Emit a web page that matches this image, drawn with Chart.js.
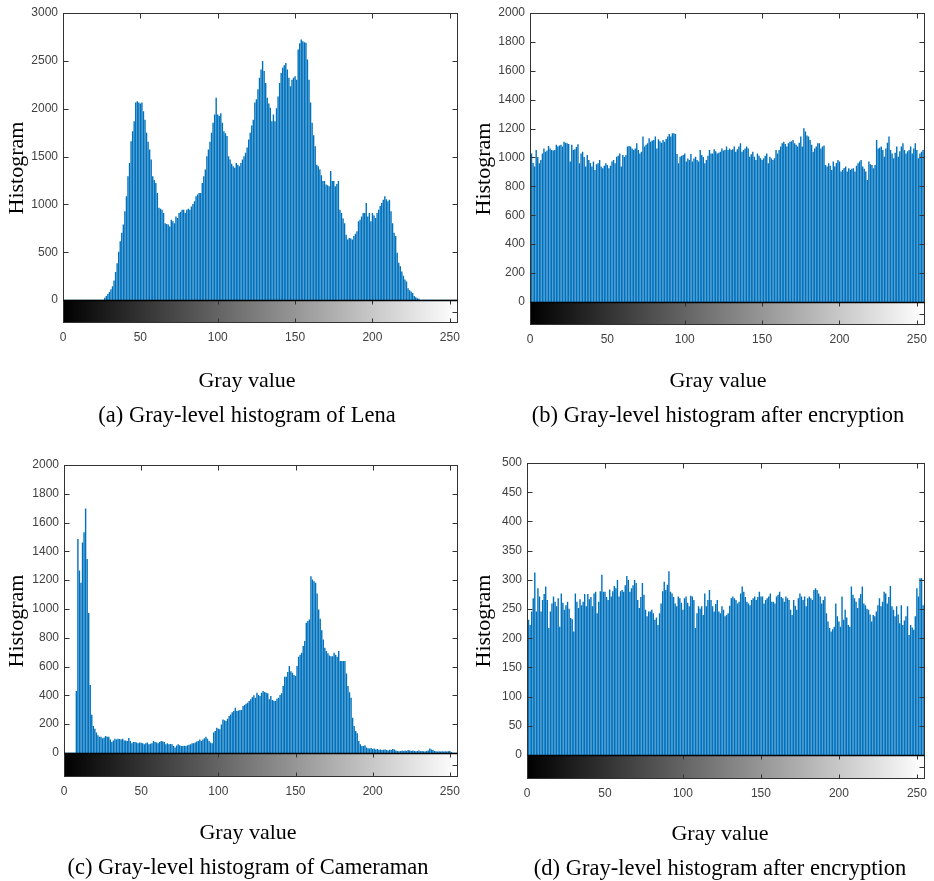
<!DOCTYPE html>
<html>
<head>
<meta charset="utf-8">
<title>Gray-level histograms</title>
<script src="https://cdn.jsdelivr.net/npm/chart.js@4.4.1/dist/chart.umd.min.js"></script>
<style>
  html, body { margin: 0; padding: 0; background: #fff; }
  body { width: 934px; height: 881px; position: relative; overflow: hidden;
         font-family: "Liberation Serif", "Times New Roman", serif; }
  canvas { position: absolute; }
  .lbl { position: absolute; transform: translate(-50%, -50%); white-space: nowrap; color: #000; }
  .xlabel { font-size: 22px; }
  .caption { font-size: 22.5px; }
</style>
</head>
<body>
<canvas id="chartA" width="467" height="440" style="left:0;top:0"></canvas>
<canvas id="chartB" width="467" height="440" style="left:467px;top:0"></canvas>
<canvas id="chartC" width="467" height="441" style="left:0;top:440px"></canvas>
<canvas id="chartD" width="467" height="441" style="left:467px;top:440px"></canvas>

<div class="lbl xlabel" style="left:247px;top:380px">Gray value</div>
<div class="lbl xlabel" style="left:718px;top:380px">Gray value</div>
<div class="lbl xlabel" style="left:248px;top:832px">Gray value</div>
<div class="lbl xlabel" style="left:720px;top:833px">Gray value</div>

<div class="lbl caption" style="left:247px;top:415px">(a) Gray-level histogram of Lena</div>
<div class="lbl caption" style="left:718px;top:415px">(b) Gray-level histogram after encryption</div>
<div class="lbl caption" style="left:248px;top:867px">(c) Gray-level histogram of Cameraman</div>
<div class="lbl caption" style="left:720px;top:868px">(d) Gray-level histogram after encryption</div>

<script>
// gray levels 0..255
const grayLevels = Array.from({ length: 256 }, (_, i) => i);
const xTicks = [0, 50, 100, 150, 200, 250];

// (a) Lena
const lenaHist = [
  0,0,0,0,0,0,0,0,0,0, 0,0,0,0,0,0,0,0,0,0, 0,0,0,0,0,0,0,
  20,40,60,80,110,140,200,290,380,500,
  610,700,785,925,1080,1290,1430,1655,1760,1865,
  2060,2075,2060,2050,2060,1970,1880,1745,1650,1570,
  1465,1290,1250,1220,1115,960,950,940,905,800,
  790,785,765,835,820,800,870,855,905,920,
  940,940,905,940,950,940,975,1000,1030,1080,
  1100,1115,1115,1220,1290,1360,1500,1570,1650,1745,
  1850,1935,2110,1935,1920,1950,1850,1760,1740,1710,
  1500,1465,1420,1395,1380,1430,1410,1395,1430,1465,
  1500,1535,1590,1675,1745,1820,1880,2060,2095,2200,
  2320,2405,2495,2390,2265,2110,2050,2005,1865,1935,
  1865,2000,2125,2265,2370,2425,2450,2475,2405,2320,
  2230,2300,2320,2335,2300,2615,2680,2720,2700,2690,
  2685,2510,2300,2060,1850,1720,1605,1410,1395,1360,
  1300,1240,1240,1205,1195,1185,1345,1240,1240,1185,
  1210,1240,940,905,850,800,680,630,645,640,
  630,665,690,715,820,835,870,905,905,1010,
  870,905,820,905,880,855,905,940,980,1010,
  1045,1080,1050,1030,1045,925,800,700,665,490,
  385,350,295,250,210,190,120,100,85,70,
  40,25,15,10,
  0,0,0,0,0,0,0,0,0,0, 0,0,0,0,0,0,0,0,0,0, 0,0,0,0,0
];
const lenaTicks = [0, 500, 1000, 1500, 2000, 2500, 3000];

// (b) Lena after encryption
const lenaEncHist = [
  990,1025,960,935,1050,1000,957,980,1025,1060,
  1038,1045,1077,1060,1050,1045,1050,1085,1073,1080,
  1085,1073,1107,1100,1096,1090,969,1085,1050,1054,
  1070,1089,957,1025,1038,1000,935,1015,980,960,
  935,969,911,950,957,980,935,923,940,957,
  946,923,940,969,980,957,1003,1010,1025,935,
  1015,1000,1015,1073,1077,1073,1060,1050,1060,1096,
  1050,1025,1038,1142,1073,1085,1096,1130,1107,1115,
  1119,1142,1060,1123,1110,1100,1119,1107,1125,1142,
  1160,1142,1165,1165,1160,1022,957,1003,1010,1015,
  1025,969,990,980,1022,969,990,1003,980,969,
  1050,1015,1000,957,980,1010,1050,1025,1025,1054,
  1040,1025,1031,1038,1060,1045,1050,1073,1050,1060,
  1050,1054,1073,1038,1055,1073,1096,1038,1050,1060,
  1073,1060,1003,1020,1038,1003,980,1025,1010,992,
  980,992,1010,1025,957,1003,990,980,992,1050,
  1025,1050,1073,1096,1107,1090,1073,1096,1107,1110,
  1119,1096,1085,1073,1100,1142,1073,1200,1177,1150,
  1142,1119,1085,1038,1060,1073,1096,1096,1060,1073,
  1080,946,935,957,940,911,969,935,960,980,
  969,900,911,925,935,900,923,911,920,923,
  900,940,957,969,980,935,920,900,842,969,
  950,946,923,946,1119,1060,1065,1073,1050,1003,
  1060,1100,1142,1050,1025,992,1030,1073,1003,1040,
  1073,1096,1050,1025,1040,1050,1073,1025,1060,1096,
  1050,992,1025,1038,1050,1060
];
const encTicks = [0, 200, 400, 600, 800, 1000, 1200, 1400, 1600, 1800, 2000];

// (c) Cameraman
const cameraHist = [
  0,0,0,0,0,0,0,0,
  428,1484,1265,1180,1460,1530,1695,1345,970,470,
  263,185,166,140,120,110,110,100,105,115,
  110,110,92,74,85,97,92,97,95,92,
  97,85,85,81,101,80,65,74,74,70,
  65,70,68,65,58,65,70,58,62,65,
  81,74,70,65,74,81,78,74,58,65,
  58,60,58,46,35,50,58,51,46,46,
  48,46,51,55,58,65,65,70,78,81,
  92,81,92,100,110,97,81,70,65,140,
  150,173,165,162,196,230,225,220,236,254,
  265,280,289,312,289,292,296,296,324,330,
  340,347,358,370,385,398,381,416,400,393,
  416,428,421,415,412,370,393,365,360,358,
  375,381,400,412,462,527,527,560,601,566,
  555,540,532,601,666,680,694,740,775,902,
  915,925,1225,1202,1190,1180,1105,994,930,850,
  786,728,705,690,675,670,670,694,680,666,
  705,636,636,636,636,550,462,420,381,243,
  185,150,134,81,58,46,46,51,35,30,
  28,32,25,28,22,25,20,22,18,20,
  22,18,15,20,18,25,22,15,12,10,
  12,15,12,15,12,18,15,12,15,12,
  10,12,15,10,12,10,8,12,15,28,
  22,18,12,10,8,10,8,10,8,10,
  8,10,12,5,0,0,0,0
];
const cameraTicks = [0, 200, 400, 600, 800, 1000, 1200, 1400, 1600, 1800, 2000];

// (d) Cameraman after encryption
const cameraEncHist = [
  262,231,222,245,268,312,245,285,271,245,
  265,275,288,265,217,245,259,271,262,254,
  268,219,276,260,248,256,262,250,234,232,
  211,276,262,251,266,256,262,275,254,275,
  266,270,254,276,279,242,262,280,308,279,
  279,270,265,283,271,280,289,285,299,271,
  280,282,279,290,306,299,279,285,290,299,
  294,265,251,270,294,274,248,237,245,245,
  248,242,231,235,222,242,259,280,296,282,
  291,314,279,276,270,259,254,271,268,260,
  248,268,271,260,254,272,271,265,217,242,
  254,250,254,239,276,254,265,282,265,254,
  245,258,265,245,242,254,248,237,239,242,
  255,268,271,268,265,259,262,276,288,279,
  270,262,259,256,265,268,271,265,270,279,
  271,271,259,265,268,271,276,262,262,259,
  271,274,279,270,268,262,271,268,265,248,
  239,265,255,248,268,276,271,265,271,254,
  268,271,268,265,282,285,282,276,271,259,
  265,271,242,228,217,211,215,219,259,237,
  228,219,271,231,248,235,222,219,288,274,
  268,262,251,268,275,288,259,256,250,248,
  240,228,239,237,245,256,268,254,262,279,
  276,259,270,289,254,248,237,254,240,225,
  256,222,230,237,254,205,222,218,214,237,
  285,271,302,302,256,254
];
const cameraEncTicks = [0, 50, 100, 150, 200, 250, 300, 350, 400, 450, 500];

Chart.defaults.font.family = '"Liberation Sans", Arial, sans-serif';

const barColor = '#0072BD';
const tickColor = '#404040';

// colour bar below zero, box, inward ticks
const framePlugin = {
  id: 'frame',
  beforeDatasetsDraw(chart) {
    const { ctx, chartArea: a, scales: { y } } = chart;
    const y0 = y.getPixelForValue(0);
    const g = ctx.createLinearGradient(a.left, 0, a.right, 0);
    g.addColorStop(0, '#000');
    g.addColorStop(1, '#fff');
    ctx.save();
    ctx.fillStyle = g;
    ctx.fillRect(a.left, y0, a.right - a.left, a.bottom - y0);
    ctx.restore();
  },
  afterDatasetsDraw(chart) {
    const { ctx, chartArea: a, scales: { x, y } } = chart;
    const L = Math.round(a.left) + 0.5, R = Math.round(a.right) - 0.5;
    const T = Math.round(a.top) + 0.5, B = Math.round(a.bottom) - 0.5;
    const y0 = Math.round(y.getPixelForValue(0)) + 0.5;
    ctx.save();
    ctx.strokeStyle = '#333';
    ctx.lineWidth = 1;
    ctx.strokeRect(L, T, R - L, B - T);
    ctx.beginPath();
    y.ticks.forEach(t => {
      if (t.value <= 0) return;
      const py = Math.round(y.getPixelForValue(t.value)) + 0.5;
      ctx.moveTo(L, py); ctx.lineTo(L + 5, py);
      ctx.moveTo(R, py); ctx.lineTo(R - 5, py);
    });
    x.ticks.forEach(t => {
      const px = Math.round(x.getPixelForValue(t.value)) + 0.5;
      ctx.moveTo(px, T); ctx.lineTo(px, T + 5);
      ctx.moveTo(px, y0); ctx.lineTo(px, y0 + 4);
      ctx.moveTo(px, B); ctx.lineTo(px, B - 4);
    });
    const ym = Math.round((y0 + B) / 2) + 0.5;
    ctx.moveTo(R, ym); ctx.lineTo(R - 5, ym);
    ctx.stroke();
    ctx.strokeStyle = '#000';
    ctx.lineWidth = 1.5;
    ctx.beginPath();
    ctx.moveTo(L, y0); ctx.lineTo(R, y0);
    ctx.stroke();
    ctx.restore();
  }
};

function makeChart(id, values, yTicks, yMin, box) {
  const canvas = document.getElementById(id);
  const xAxisH = 30;
  return new Chart(canvas, {
    type: 'bar',
    data: {
      datasets: [{
        data: values.map((v, i) => ({ x: grayLevels[i], y: v })),
        backgroundColor: barColor,
        borderWidth: 0,
        barThickness: 0.75
      }]
    },
    options: {
      responsive: false,
      animation: false,
      events: [],
      layout: {
        padding: { left: 0, top: box.t, right: canvas.width - box.r, bottom: canvas.height - box.b - xAxisH }
      },
      plugins: { legend: { display: false }, tooltip: { enabled: false } },
      scales: {
        x: {
          type: 'linear', min: 0, max: 255, offset: false,
          grid: { display: false, drawTicks: false }, border: { display: false },
          afterBuildTicks: s => { s.ticks = xTicks.map(v => ({ value: v })); },
          afterFit: s => { s.height = xAxisH; },
          ticks: { padding: 7, color: tickColor, font: { size: 12 }, maxRotation: 0, autoSkip: false,
                   callback: v => String(v) }
        },
        y: {
          min: yMin, max: yTicks[yTicks.length - 1],
          grid: { display: false, drawTicks: false }, border: { display: false },
          afterBuildTicks: s => { s.ticks = yTicks.map(v => ({ value: v })); },
          afterFit: s => { s.width = box.l; },
          ticks: { padding: 5, color: tickColor, font: { size: 12 }, autoSkip: false,
                   callback: v => String(v) },
          title: {
            display: true, text: 'Histogram', color: '#000',
            font: { family: '"Liberation Serif", "Times New Roman", serif', size: 22 },
            padding: { top: 4, bottom: 0 }
          }
        }
      }
    },
    plugins: [framePlugin]
  });
}

makeChart('chartA', lenaHist, lenaTicks, -240, { l: 63, r: 458, t: 13, b: 323 });
makeChart('chartB', lenaEncHist, encTicks, -160, { l: 63, r: 460, t: 13, b: 325 });
makeChart('chartC', cameraHist, cameraTicks, -167, { l: 64, r: 460, t: 25, b: 337 });
makeChart('chartD', cameraEncHist, cameraEncTicks, -41, { l: 60, r: 462, t: 23, b: 339 });
</script>
</body>
</html>
